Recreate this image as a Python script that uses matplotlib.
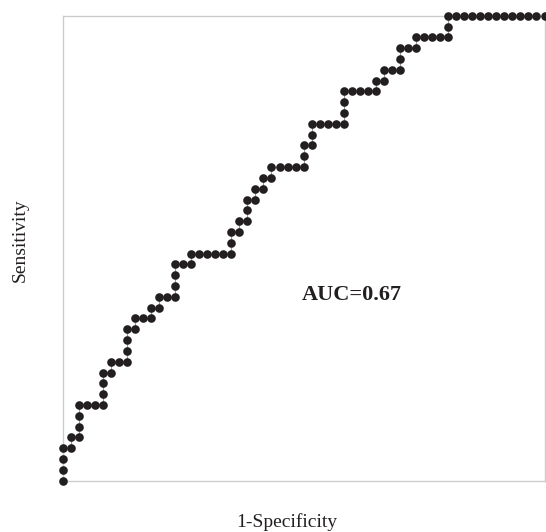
import matplotlib
matplotlib.use("Agg")
import matplotlib.pyplot as plt
import numpy as np

# ROC staircase, as counts of false / true positives
n_neg = 60
n_pos = 43
fp_count = [0, 0, 0, 0, 1, 1, 2, 2, 2, 2, 3, 4, 5, 5, 5, 5, 6, 6, 7, 8,
            8, 8, 8, 9, 9, 10, 11, 11, 12, 12, 13, 14, 14, 14, 14, 15, 16, 16, 17, 18,
            19, 20, 21, 21, 21, 22, 22, 23, 23, 23, 24, 24, 25, 25, 26, 26, 27, 28, 29, 30,
            30, 30, 31, 31, 31, 32, 33, 34, 35, 35, 35, 35, 36, 37, 38, 39, 39, 40, 40, 41,
            42, 42, 42, 43, 44, 44, 45, 46, 47, 48, 48, 48, 49, 50, 51, 52, 53, 54, 55, 56,
            57, 58, 59, 60]
tp_count = [0, 1, 2, 3, 3, 4, 4, 5, 6, 7, 7, 7, 7, 8, 9, 10, 10, 11, 11, 11,
            12, 13, 14, 14, 15, 15, 15, 16, 16, 17, 17, 17, 18, 19, 20, 20, 20, 21, 21, 21,
            21, 21, 21, 22, 23, 23, 24, 24, 25, 26, 26, 27, 27, 28, 28, 29, 29, 29, 29, 29,
            30, 31, 31, 32, 33, 33, 33, 33, 33, 34, 35, 36, 36, 36, 36, 36, 37, 37, 38, 38,
            38, 39, 40, 40, 40, 41, 41, 41, 41, 41, 42, 43, 43, 43, 43, 43, 43, 43, 43, 43,
            43, 43, 43, 43]
auc_label = "AUC=0.67"

fpr = np.array(fp_count) / n_neg
tpr = np.array(tp_count) / n_pos

plt.rcParams['font.family'] = ['Liberation Serif', 'DejaVu Serif']

fig = plt.figure(figsize=(5.46, 5.32), dpi=100)
ax = fig.add_axes([0.1148, 0.0964, 0.8825, 0.8741])

ax.plot(fpr, tpr, color="#9a9a9a", lw=0.8, zorder=2, clip_on=False)
ax.plot(fpr, tpr, "o", color="#231f20", markersize=6.2, markeredgewidth=0,
        zorder=3, clip_on=False)

ax.set_xlim(0, 1)
ax.set_ylim(0, 1)
ax.set_xticks([])
ax.set_yticks([])
for s in ax.spines.values():
    s.set_color("#cccccc")
    s.set_linewidth(1.0)

ax.text(0.6, 0.4, auc_label, transform=ax.transAxes, ha="center", va="center",
        fontsize=16, fontweight="bold", color="#231f20")

fig.text(287 / 546, 1 - 522 / 532, "1-Specificity", ha="center", va="center",
         fontsize=14, color="#231f20")
fig.text(20 / 546, 1 - 240 / 532, "Sensitivity", ha="center", va="center",
         rotation=90, fontsize=14, color="#231f20")

fig.savefig("out.png", dpi=100)
